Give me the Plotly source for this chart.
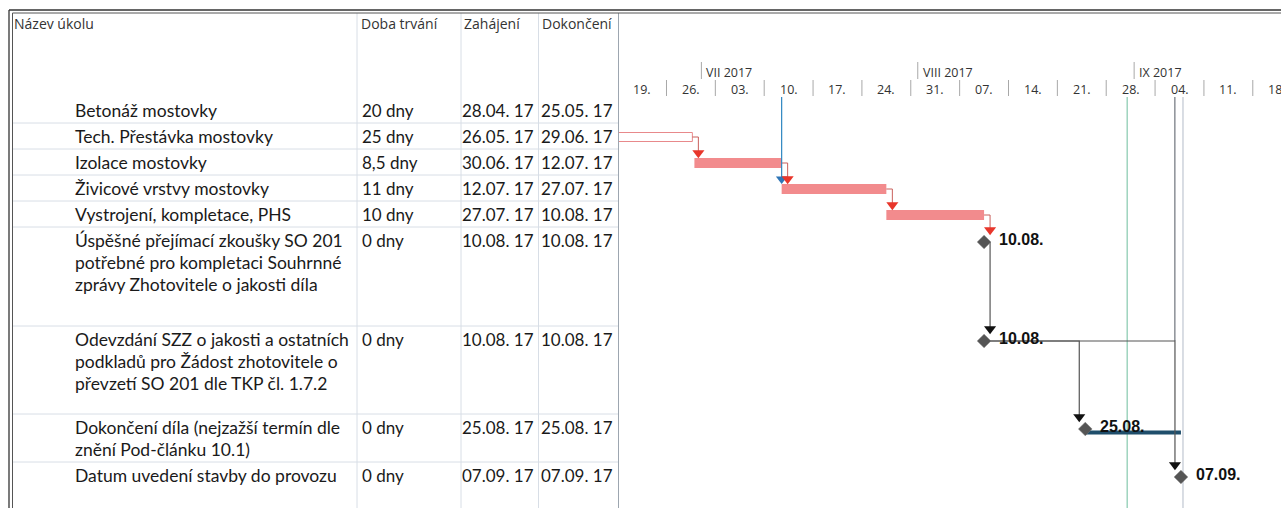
import pandas as pd
import plotly.graph_objects as go

W, H = 1281, 508

# ---------------- data ----------------
task_names = [
    "Betonáž mostovky",
    "Tech. Přestávka mostovky",
    "Izolace mostovky",
    "Živicové vrstvy mostovky",
    "Vystrojení, kompletace, PHS",
    "Úspěšné přejímací zkoušky SO 201\npotřebné pro kompletaci Souhrnné\nzprávy Zhotovitele o jakosti díla",
    "Odevzdání SZZ o jakosti a ostatních\npodkladů pro Žádost zhotovitele o\npřevzetí SO 201 dle TKP čl. 1.7.2",
    "Dokončení díla (nejzažší termín dle\nznění Pod-článku 10.1)",
    "Datum uvedení stavby do provozu",
]
durations = ["20 dny", "25 dny", "8,5 dny", "11 dny", "10 dny", "0 dny", "0 dny", "0 dny", "0 dny"]
start_labels = ["28.04. 17", "26.05. 17", "30.06. 17", "12.07. 17", "27.07. 17",
                "10.08. 17", "10.08. 17", "25.08. 17", "07.09. 17"]
finish_labels = ["25.05. 17", "29.06. 17", "12.07. 17", "27.07. 17", "10.08. 17",
                 "10.08. 17", "10.08. 17", "25.08. 17", "07.09. 17"]
task_start = ["2017-04-28 08:00", "2017-05-26 08:00", "2017-06-30 00:00", "2017-07-12 12:00",
              "2017-07-27 12:00", "2017-08-10 12:00", "2017-08-10 12:00", "2017-08-25 00:00",
              "2017-09-07 17:00"]
task_finish = ["2017-05-25 17:00", "2017-06-29 17:00", "2017-07-12 12:00", "2017-07-27 12:00",
               "2017-08-10 12:00", "2017-08-10 12:00", "2017-08-10 12:00", "2017-08-25 00:00",
               "2017-09-07 17:00"]
task_type = ["task", "manual", "task", "task", "task", "milestone", "milestone", "milestone", "milestone"]
milestone_labels = ["", "", "", "", "", "10.08.", "10.08.", "25.08.", "07.09."]
links = [(0, 1), (1, 2), (2, 3), (3, 4), (4, 5), (5, 6), (6, 7), (6, 8)]
link_critical = [True, True, True, True, True, False, False, False]
slack_task = 7
slack_finish = "2017-09-07 17:00"
status_date = "2017-07-12 12:00"
deadline_date = "2017-08-31 00:00"
marker_dates = ["2017-09-06 20:00", "2017-09-08 00:00"]

week_starts = ["2017-06-19", "2017-06-26", "2017-07-03", "2017-07-10", "2017-07-17", "2017-07-24",
               "2017-07-31", "2017-08-07", "2017-08-14", "2017-08-21", "2017-08-28", "2017-09-04",
               "2017-09-11", "2017-09-18"]
week_labels = ["19.", "26.", "03.", "10.", "17.", "24.", "31.", "07.", "14.", "21.", "28.", "04.", "11.", "18."]
month_starts = ["2017-07-01", "2017-08-01", "2017-09-01"]
month_labels = ["VII 2017", "VIII 2017", "IX 2017"]
headers = ["Název úkolu", "Doba trvání", "Zahájení", "Dokončení"]

# ---------------- layout constants ----------------
GX0 = 618.5
X_RANGE = ["2017-06-19 03:00", "2017-09-22 01:00"]
span_days = (pd.Timestamp(X_RANGE[1]) - pd.Timestamp(X_RANGE[0])) / pd.Timedelta(days=1)
PXD = (W - GX0) / span_days


def shift(ts, px):
    return pd.Timestamp(ts) + pd.Timedelta(days=px / PXD)


ROW_TOP0 = 97
row_heights = [26, 26, 26, 26, 26, 99, 88, 48, 46]
tops = []
t = ROW_TOP0
for h in row_heights:
    tops.append(t)
    t += h
bar_y = [tp + 14 for tp in tops]
ms_y = [tp + 15 for tp in tops]
y_of = [ms_y[i] if task_type[i] == "milestone" else bar_y[i] for i in range(len(tops))]
BAR_W = 10

col_x = [12, 357, 461, 538.5]
text_x = [73, 359.5, 460, 538.5]
head_x = [12, 359, 462, 540]

BODY_FONT = "Lato, Calibri, sans-serif"
HEAD_FONT = "Open Sans, Segoe UI, sans-serif"
LINE_COL = "#D8DEE6"

fig = go.Figure()

# ---------------- bars ----------------
idx_task = [i for i in range(len(task_type)) if task_type[i] == "task"]
idx_man = [i for i in range(len(task_type)) if task_type[i] == "manual"]
idx_ms = [i for i in range(len(task_type)) if task_type[i] == "milestone"]


def dur_ms(i):
    return (pd.Timestamp(task_finish[i]) - pd.Timestamp(task_start[i])) / pd.Timedelta(milliseconds=1)


fig.add_trace(go.Bar(orientation="h", base=[task_start[i] for i in idx_man],
                     x=[dur_ms(i) for i in idx_man], y=[bar_y[i] for i in idx_man], width=BAR_W - 1,
                     marker=dict(color="white", line=dict(color="#E8898B", width=1)), hoverinfo="skip"))
fig.add_trace(go.Bar(orientation="h", base=[task_start[i] for i in idx_task],
                     x=[dur_ms(i) for i in idx_task], y=[bar_y[i] for i in idx_task], width=BAR_W,
                     marker=dict(color="#F28B8D", line=dict(width=0)), hoverinfo="skip"))
# slack bar
fig.add_trace(go.Bar(orientation="h", base=[task_start[slack_task]],
                     x=[(pd.Timestamp(slack_finish) - pd.Timestamp(task_start[slack_task])) / pd.Timedelta(milliseconds=1)],
                     y=[ms_y[slack_task] + 3.5], width=4,
                     marker=dict(color="#1F4E6B", line=dict(width=0)), hoverinfo="skip"))

# ---------------- connectors ----------------
red_x, red_y, blk_x, blk_y = [], [], [], []
red_ax, red_ay, blk_ax, blk_ay = [], [], [], []
for (p, s), crit in zip(links, link_critical):
    p_end = task_finish[p]
    s_start = task_start[s]
    xc = max(shift(p_end, 6), shift(s_start, -6))
    yp = y_of[p]
    s_top = (ms_y[s] - 7) if task_type[s] == "milestone" else (bar_y[s] - BAR_W / 2)
    x0 = shift(p_end, 6) if task_type[p] == "milestone" else pd.Timestamp(p_end)
    xs = [x0, xc, xc, None]
    ys = [yp, yp, s_top - 6, None]
    if crit:
        red_x += xs; red_y += ys; red_ax.append(xc); red_ay.append(s_top - 5)
    else:
        blk_x += xs; blk_y += ys; blk_ax.append(xc); blk_ay.append(s_top - 5)

fig.add_trace(go.Scatter(x=red_x, y=red_y, mode="lines", line=dict(color="#C9605C", width=1), hoverinfo="skip"))
fig.add_trace(go.Scatter(x=blk_x, y=blk_y, mode="lines", line=dict(color="#555555", width=1.2), hoverinfo="skip"))

# status (blue) line with arrow
s_idx = 3
fig.add_trace(go.Scatter(x=[status_date, status_date], y=[ROW_TOP0, bar_y[s_idx] - BAR_W / 2 - 6], mode="lines",
                         line=dict(color="#2E86C1", width=1.2), hoverinfo="skip"))
fig.add_trace(go.Scatter(x=[status_date], y=[bar_y[s_idx] - BAR_W / 2 - 5], mode="markers",
                         marker=dict(symbol="triangle-down", size=10, color="#2E75B6"), hoverinfo="skip"))
fig.add_trace(go.Scatter(x=red_ax, y=red_ay, mode="markers",
                         marker=dict(symbol="triangle-down", size=10.5, color="#E8362B"), hoverinfo="skip"))
fig.add_trace(go.Scatter(x=blk_ax, y=blk_ay, mode="markers",
                         marker=dict(symbol="triangle-down", size=10.5, color="#111111"), hoverinfo="skip"))

# milestones
fig.add_trace(go.Scatter(x=[task_start[i] for i in idx_ms], y=[ms_y[i] for i in idx_ms], mode="markers",
                         marker=dict(symbol="diamond", size=10.5, color="#555555",
                                     line=dict(color="#777777", width=0.5)), hoverinfo="skip"))
for i in idx_ms:
    fig.add_annotation(x=task_start[i], y=ms_y[i] - 3, xref="x", yref="y", text="<b>" + milestone_labels[i] + "</b>",
                       showarrow=False, xanchor="left", yanchor="middle", xshift=13,
                       font=dict(family="Liberation Sans, Arial, sans-serif", size=16, color="#111111"))

shapes = []
# vertical date markers
shapes.append(dict(type="line", xref="x", yref="y", x0=deadline_date, x1=deadline_date, y0=ROW_TOP0, y1=H,
                   line=dict(color="#6DBE9E", width=1), layer="below"))
shapes.append(dict(type="line", xref="x", yref="y", x0=marker_dates[0], x1=marker_dates[0], y0=ROW_TOP0,
                   y1=ms_y[6], line=dict(color="#7A7F86", width=1.3), layer="below"))
shapes.append(dict(type="line", xref="x", yref="y", x0=marker_dates[1], x1=marker_dates[1], y0=ROW_TOP0, y1=H,
                   line=dict(color="#B4BCC8", width=1), layer="below"))

# timescale
for ws in week_starts[1:]:
    shapes.append(dict(type="line", xref="x", yref="y", x0=ws, x1=ws, y0=80, y1=96,
                       line=dict(color="#A8A8A8", width=1)))
for ms in month_starts:
    shapes.append(dict(type="line", xref="x", yref="y", x0=ms, x1=ms, y0=62, y1=79,
                       line=dict(color="#A8A8A8", width=1)))
for ws, wl in zip(week_starts, week_labels):
    fig.add_annotation(x=pd.Timestamp(ws) + pd.Timedelta(days=3.5), y=89, xref="x", yref="y", text=wl,
                       showarrow=False, xanchor="center", yanchor="middle",
                       font=dict(family=HEAD_FONT, size=12.5, color="#333333"))
for ms, ml in zip(month_starts, month_labels):
    fig.add_annotation(x=ms, y=72, xref="x", yref="y", text=ml, showarrow=False, xanchor="left",
                       yanchor="middle", xshift=3, font=dict(family=HEAD_FONT, size=12.5, color="#333333"))

# table grid
for tp in tops[1:]:
    shapes.append(dict(type="line", xref="paper", yref="y", x0=col_x[0] / W, x1=GX0 / W, y0=tp, y1=tp,
                       line=dict(color=LINE_COL, width=1)))
for cx in col_x[1:]:
    shapes.append(dict(type="line", xref="paper", yref="y", x0=cx / W, x1=cx / W, y0=13, y1=H,
                       line=dict(color=LINE_COL, width=1)))
shapes.append(dict(type="line", xref="paper", yref="y", x0=GX0 / W, x1=GX0 / W, y0=13, y1=H,
                   line=dict(color="#9DA6B0", width=1)))
# frame (double line)
shapes.append(dict(type="line", xref="paper", yref="y", x0=9 / W, x1=1, y0=10, y1=10,
                   line=dict(color="#333333", width=1.3)))
shapes.append(dict(type="line", xref="paper", yref="y", x0=12.5 / W, x1=1, y0=13, y1=13,
                   line=dict(color="#555555", width=1)))
shapes.append(dict(type="line", xref="paper", yref="y", x0=9 / W, x1=9 / W, y0=10, y1=H,
                   line=dict(color="#333333", width=1.3)))
shapes.append(dict(type="line", xref="paper", yref="y", x0=12.5 / W, x1=12.5 / W, y0=13, y1=H,
                   line=dict(color="#555555", width=1)))

# table headers
for hx, ht in zip(head_x, headers):
    fig.add_annotation(x=hx / W, y=23, xref="paper", yref="y", text=ht, showarrow=False, xanchor="left",
                       yanchor="middle", font=dict(family=HEAD_FONT, size=14, color="#333333"))

# table body
LINE_SP = 22
for i in range(len(task_names)):
    ty = tops[i] + 13.5
    for k, line in enumerate(task_names[i].split("\n")):
        fig.add_annotation(x=text_x[0] / W, y=ty + k * LINE_SP, xref="paper", yref="y", text=line,
                           showarrow=False, xanchor="left", yanchor="middle",
                           font=dict(family=BODY_FONT, size=17.5, color="#1A1A1A"))
    for col, vals in zip(text_x[1:], [durations, start_labels, finish_labels]):
        fig.add_annotation(x=col / W, y=ty, xref="paper", yref="y", text=vals[i], showarrow=False,
                           xanchor="left", yanchor="middle",
                           font=dict(family=BODY_FONT, size=17, color="#1A1A1A"))

fig.update_layout(
    width=W, height=H, margin=dict(l=0, r=0, t=0, b=0),
    paper_bgcolor="white", plot_bgcolor="white", showlegend=False, barmode="overlay",
    shapes=shapes,
    xaxis=dict(type="date", range=X_RANGE, domain=[GX0 / W, 1], visible=False, fixedrange=True),
    yaxis=dict(range=[H, 0], domain=[0, 1], visible=False, fixedrange=True),
)

fig.write_html("out.html", post_script="document.body.style.margin='0';", config={"displayModeBar": False})
